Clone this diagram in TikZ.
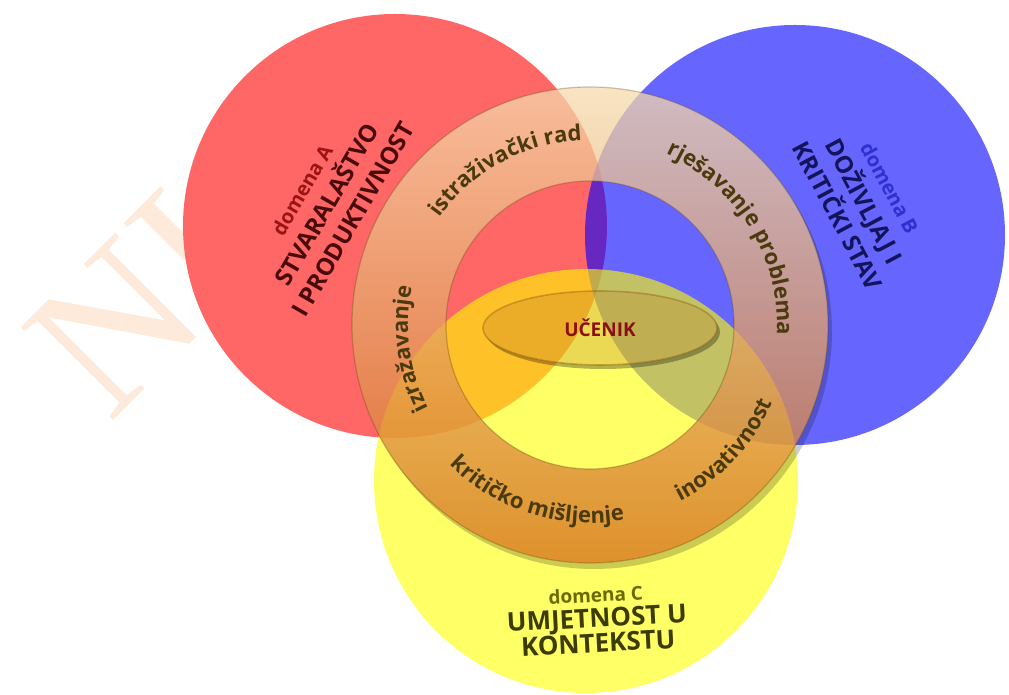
\documentclass[tikz,border=0pt]{standalone}
\usepackage{fontspec}
\setmainfont{Open Sans}
\newfontfamily\markfont{Liberation Serif}
\usetikzlibrary{decorations.text}
\definecolor{VennRed}{HTML}{FF6666}
\definecolor{VennBlue}{HTML}{0000FF}
\definecolor{VennYellow}{HTML}{FFFF00}
\definecolor{RingTop}{RGB}{246,219,174}
\definecolor{RingBottom}{RGB}{211,107,25}
\definecolor{RingEdge}{RGB}{90,60,10}
\definecolor{RingText}{HTML}{4A3A0E}
\definecolor{CoreFill}{RGB}{190,130,40}
\definecolor{CoreEdge}{RGB}{150,100,20}
\definecolor{CoreText}{HTML}{8B1010}
\definecolor{DomARed}{HTML}{9A1414}
\definecolor{DomADark}{HTML}{480A0A}
\definecolor{DomBBlue}{HTML}{3030D0}
\definecolor{DomBDark}{HTML}{14145C}
\definecolor{DomCOlive}{HTML}{6A6A00}
\definecolor{DomCDark}{HTML}{3C3C00}
\definecolor{MarkPeach}{HTML}{FDEADA}
\newcommand\ringfmt{\fontsize{11}{13}\selectfont\bfseries\color{RingText}}
\newcommand\domfmt{\fontsize{10}{15}\selectfont}
\tikzset{
  domLbl/.style={font=\fontsize{12}{15}\selectfont\bfseries, align=center, inner sep=0pt},
  ringLbl/.style={decorate, decoration={text along path, text align=center, text={#1}}},
  markLbl/.style={font=\markfont\fontsize{100}{100}\selectfont, text=MarkPeach, rotate=45, inner sep=0pt},
  coreShape/.style={x radius=117, y radius=37},
}

\begin{document}
\begin{tikzpicture}[x=0.5pt, y=0.5pt]
  \useasboundingbox (0,0) rectangle (1009,695);

  % watermark
  \node[markLbl] (markN) at (114,368) {N};
  \node[markLbl] (markI) at (189,443) {I};

  % three domains
  \fill[VennRed] (395,469) circle (212);
  \fill[VennBlue, fill opacity=.6] (795,460) circle (210);
  \fill[VennYellow, fill opacity=.6] (586,214) circle (212);

  % ring of skills
  \begin{scope}
    \clip (594,364) circle (238);
    \fill[black, fill opacity=.2, even odd rule] (300,80) rectangle (900,660) (590,370) circle (238);
  \end{scope}
  \shade[even odd rule, top color=RingTop, bottom color=RingBottom, fill opacity=.74]
    (590,370) circle (238) (590,370) circle (144);
  \draw[RingEdge, opacity=.3, line width=.6pt] (590,370) circle (238) (590,370) circle (144);

  \path[ringLbl={|\ringfmt|istraživački rad}] (590,370) ++(150:185) arc[start angle=150, end angle=87, radius=185];
  \path[ringLbl={|\ringfmt|rješavanje problema}] (590,370) ++(80:187) arc[start angle=80, end angle=-17, radius=187];
  \path[ringLbl={|\ringfmt|izražavanje}] (590,370) ++(215:182) arc[start angle=215, end angle=160, radius=182];
  \path[ringLbl={|\ringfmt|inovativnost}] (590,370) ++(-68:198) arc[start angle=-68, end angle=-18, radius=198];
  \path[ringLbl={|\ringfmt|kritičko mišljenje}] (590,370) ++(212:198) arc[start angle=212, end angle=293, radius=198];

  % centre
  \begin{scope}
    \clip (603,363) ellipse [coreShape];
    \fill[black, fill opacity=.3, even odd rule] (470,310) rectangle (730,420) (600,367) ellipse [coreShape];
  \end{scope}
  \fill[CoreFill, fill opacity=.3] (600,367) ellipse [coreShape];
  \draw[CoreEdge, opacity=.45, line width=.8pt] (600,367) ellipse [coreShape];
  \node[font=\fontsize{9.5}{11}\selectfont\bfseries, text=CoreText] (core) at (600,367) {UČENIK};

  % domain labels
  \node[domLbl, rotate=60, text=DomADark] (domA) at (328,490)
    {{\domfmt\color{DomARed}domena A}\\STVARALAŠTVO\\I PRODUKTIVNOST};
  \node[domLbl, rotate=-62, text=DomBDark] (domB) at (863,493)
    {{\domfmt\color{DomBBlue}domena B}\\DOŽIVLJAJ I\\KRITIČKI STAV};
  \node[domLbl, rotate=3, text=DomCDark, font=\fontsize{13}{12.5}\selectfont\bfseries] (domC) at (597,75)
    {{\fontsize{9.5}{12.5}\selectfont\color{DomCOlive}domena C}\\UMJETNOST U\\KONTEKSTU};

\end{tikzpicture}
\end{document}
